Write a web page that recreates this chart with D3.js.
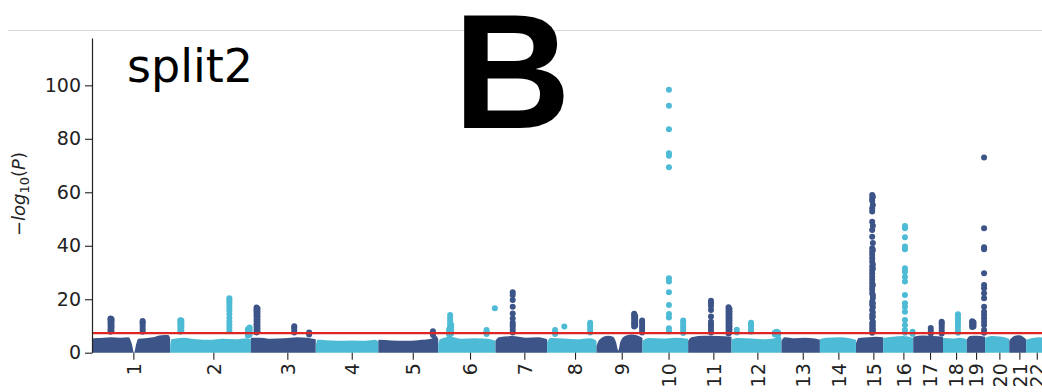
<!DOCTYPE html>
<html>
<head>
<meta charset="utf-8">
<script src="https://cdn.jsdelivr.net/npm/d3@7"></script>
<style>
  html, body { margin: 0; padding: 0; background: #fff; }
  svg { display: block; }
</style>
</head>
<body>
<svg id="chart" width="1042" height="392"></svg>
<script>
// ---- data -------------------------------------------------------------
const chromLabels = ["1","2","3","4","5","6","7","8","9","10","11",
                     "12","13","14","15","16","17","18","19","20","21","22"];
// plotted span of each chromosome (Mb)
const chromSpan = [251,244,196,189,181,173,156,149,139,138,131,
                   151,116,109,82,91,90,72,55,73,51,57];
// x tick positions (cumulative Mb)
const tickPos = [139.9,381.6,605.1,799.7,984,1157.1,1321.1,1474.3,1615.4,1756.8,1892.1,
                 2025.1,2162.2,2269.8,2375.5,2466.2,2546.8,2625.4,2685.8,2756.2,2816.6,2869.2];
const yTickValues = [0, 20, 40, 60, 80, 100];
const threshold = 7.3;   // -log10(5e-8)

// upper envelope of the dense background SNP cloud: [position in chromosome (Mb), -log10 P]
const envelope = [
  [[0,5.2],[30,5.5],[50,5.6],[72,5.8],[100,5.6],[125,5.8],[136,3],[142,0],[148,3],[155,5.2],[175,5.4],[200,5.8],[225,6.5],[245,6.6],[251,5.5]],
  [[0,2],[4,5],[40,5.6],[80,5.0],[120,4.8],[160,5.2],[200,5.0],[230,5.4],[244,5]],
  [[0,5.5],[30,5.6],[60,5.2],[100,5.4],[140,5.8],[170,5.6],[196,5.0]],
  [[0,2.5],[5,4.8],[30,4.7],[70,4.5],[110,4.6],[150,4.5],[180,4.8],[189,4]],
  [[0,4.8],[40,4.6],[80,4.5],[120,4.7],[160,5.2],[175,6.2],[181,5]],
  [[0,3],[5,5],[36,6],[70,5.2],[110,5.4],[150,5.2],[173,4.5]],
  [[0,4.5],[10,5.8],[50,6.2],[90,5.6],[130,5.8],[156,5]],
  [[0,4],[10,5.5],[50,5.3],[90,5.0],[130,5.4],[149,4.5]],
  [[0,2.5],[10,5],[35,6.3],[50,6.0],[59,4],[66,0.8],[72,4],[86,6.2],[104,6.8],[126,6.3],[139,5.5]],
  [[0,4.5],[20,5.5],[60,5.3],[100,5.6],[138,5.2]],
  [[0,4.5],[10,5.8],[50,6.3],[90,6.2],[131,6]],
  [[0,5],[20,5.5],[60,5.3],[100,5.0],[130,5.4],[140,6.3],[151,5.5]],
  [[0,4.5],[10,5.8],[40,5.4],[70,5.6],[100,5.3],[116,4.8]],
  [[0,5],[20,5.6],[60,5.8],[90,5.4],[109,4.8]],
  [[0,3.5],[8,5.5],[40,5.8],[60,6],[82,5.8]],
  [[0,5.5],[30,6],[60,6.2],[91,5.5]],
  [[0,6],[30,6.4],[60,6.2],[90,6]],
  [[0,5.5],[30,5.3],[50,5.6],[72,5]],
  [[0,5],[10,6.2],[30,6.3],[55,6]],
  [[0,5.5],[20,6.2],[50,6.0],[73,5.2]],
  [[0,4.5],[15,6.2],[30,6.5],[51,5]],
  [[0,4.8],[20,5.5],[40,5.8],[57,5.5]]
];

// associated SNPs above the background: chromosome, position (Mb), -log10 P values
const hits = [
  {chr:1,  pos:71,  p:[7.8,8.8,9.8,10.8,11.6,12.3,12.8]},
  {chr:1,  pos:74,  p:[8.2,9.3,10.3,11.2,12.0,12.6]},
  {chr:1,  pos:168, p:[7.8,8.8,9.8,10.7,11.4,11.9]},
  {chr:2,  pos:31,  p:[7.8,8.8,9.8,10.7,11.5,12.1]},
  {chr:2,  pos:34,  p:[8.3,9.4,10.4,11.3,12.0]},
  {chr:2,  pos:179, p:[8.0,9.2,10.5,11.6,13.0,14.5,15.8,16.8,17.8,18.8,19.6,20.4]},
  {chr:2,  pos:235, p:[6.4,7.3,8.1,8.8]},
  {chr:2,  pos:240, p:[6.6,7.5,8.3,9.0,9.4]},
  {chr:3,  pos:17,  p:[7.6,8.6,9.6,10.6,11.6,12.6,13.6,14.5,15.4,16.2,16.9]},
  {chr:3,  pos:20,  p:[8.0,9.1,10.2,11.3,12.4,13.5,14.6,15.6,16.5]},
  {chr:3,  pos:131, p:[7.6,8.5,9.3,9.9]},
  {chr:3,  pos:176, p:[6.8,7.6]},
  {chr:5,  pos:165, p:[6.6,7.4,8.0]},
  {chr:6,  pos:33,  p:[6.8,7.8,8.8]},
  {chr:6,  pos:36,  p:[7.0,8.0,9.0,10.0,11.0,12.0,13.0,14.1]},
  {chr:6,  pos:39,  p:[7.2,8.4,9.6,10.5]},
  {chr:6,  pos:146, p:[7.0,7.9,8.5]},
  {chr:6,  pos:171, p:[16.6]},
  {chr:7,  pos:52,  p:[7.6,8.5,9.6,10.4,11.2,12.8,14.7,17.2,19.7,21.6,22.6]},
  {chr:8,  pos:24,  p:[7.0,7.8,8.5]},
  {chr:8,  pos:52,  p:[9.8]},
  {chr:8,  pos:130, p:[7.6,8.6,9.6,10.5,11.2]},
  {chr:9,  pos:114, p:[9.8,10.6,11.4,12.3,13.2,14.0,14.6]},
  {chr:9,  pos:117, p:[10.2,11.0,11.9,12.8,13.7]},
  {chr:9,  pos:138, p:[7.6,8.5,9.4,10.4,11.3,12.0]},
  {chr:10, pos:80,  p:[7.9,9.1,13.2,14.5,17.8,22.6,26.6,27.8,69.4,73.7,74.6,83.6,92.4,98.3]},
  {chr:10, pos:123, p:[7.4,8.4,9.4,10.4,11.3,12.0]},
  {chr:11, pos:69,  p:[7.6,8.6,9.7,10.6,11.6,13.5,16.0,17.5,18.5,19.4]},
  {chr:11, pos:122, p:[7.2,8.2,9.2,10.2,11.2,12.2,13.2,14.2,15.2,16.2,17.0]},
  {chr:11, pos:125, p:[7.6,8.7,9.8,10.9,12.0,13.1,14.2,15.3,16.3]},
  {chr:12, pos:16,  p:[7.6,8.6]},
  {chr:12, pos:59,  p:[7.8,8.8,9.8,10.6,11.2]},
  {chr:12, pos:131, p:[6.8,7.6]},
  {chr:12, pos:136, p:[7.0,7.8]},
  {chr:12, pos:141, p:[6.8,7.6]},
  {chr:15, pos:49,  p:[7.5,8.5,9.7,11.0,12.9,14.1,16.0,17.8,19.1,22.2,23.5,24.7,26.0,27.2,28.4,29.7,30.9,32.2,
                       34.0,35.3,36.6,37.8,39.1,43.4,45.9,49.0,52.8,54.0,56.8,57.8,59.0]},
  {chr:15, pos:51,  p:[8.0,9.0,10.3,11.6,13.5,15.0,17.0,18.5,20.5,21.5,25.3,31.5,33.0,38.4,41.0,47.5,55.2,58.3]},
  {chr:16, pos:66,  p:[7.5,8.5,10.4,12.2,15.3,17.2,18.5,21.6,26.6,28.4,30.3,31.6,38.7,39.7,43.2,46.5,47.4]},
  {chr:16, pos:89,  p:[7.0,7.8]},
  {chr:17, pos:53,  p:[7.2,8.2,9.2]},
  {chr:17, pos:86,  p:[7.2,8.2,9.2,10.2,11.0,11.6]},
  {chr:18, pos:45,  p:[7.5,8.5,9.8,11.0,12.0,12.9,13.8,14.4]},
  {chr:19, pos:16,  p:[9.6,10.4,11.2,11.8]},
  {chr:19, pos:20,  p:[9.8,10.6,11.4]},
  {chr:19, pos:52,  p:[7.5,8.5,10.4,11.6,12.9,14.1,15.3,17.2,20.4,22.2,24.1,25.3,29.7,38.7,39.4,46.5,73.0]}
];

// ---- layout -----------------------------------------------------------
const W = 1042, H = 392;
const plot = {left: 92, right: 1042, top: 38, bottom: 352.7};
const colors = ["#3C5488", "#4DBBD5"];
const textColor = "#222";

const chromStart = [];
chromSpan.reduce((acc, len, i) => { chromStart[i] = acc; return acc + len; }, 0);

const x = d3.scaleLinear().domain([15, 2885]).range([plot.left, plot.right]);
const y = d3.scaleLinear().domain([0, 117.7]).range([plot.bottom, plot.top]);

const svg = d3.select("#chart");
svg.append("rect").attr("width", W).attr("height", H).attr("fill", "#fff");

// thin rule across the top of the panel
svg.append("line")
  .attr("x1", 8).attr("x2", W).attr("y1", 30.5).attr("y2", 30.5)
  .attr("stroke", "#d9d9d9").attr("stroke-width", 1);

svg.append("defs").append("clipPath").attr("id", "plotClip")
  .append("rect")
  .attr("x", plot.left).attr("y", 0)
  .attr("width", plot.right - plot.left).attr("height", plot.bottom + 1);

const g = svg.append("g").attr("clip-path", "url(#plotClip)");

// background SNP cloud per chromosome
const area = d3.area()
  .x(d => d.x).y0(y(0)).y1(d => d.y)
  .curve(d3.curveMonotoneX);

envelope.forEach((pts, i) => {
  const start = chromStart[i];
  g.append("path")
    .datum(pts.map(d => ({x: x(start + d[0]), y: y(d[1])})))
    .attr("d", area)
    .attr("fill", colors[i % 2]);
});

// significant SNPs
const dots = [];
hits.forEach(h => {
  const i = h.chr - 1;
  h.p.forEach(v => dots.push({cx: x(chromStart[i] + h.pos), cy: y(v), c: colors[i % 2]}));
});
g.selectAll("circle.snp").data(dots).join("circle")
  .attr("class", "snp")
  .attr("cx", d => d.cx).attr("cy", d => d.cy).attr("r", 3)
  .attr("fill", d => d.c);

// genome-wide significance line
g.append("line")
  .attr("x1", plot.left).attr("x2", plot.right)
  .attr("y1", y(threshold)).attr("y2", y(threshold))
  .attr("stroke", "#dd2727").attr("stroke-width", 2.3);

// axes
const yAxis = d3.axisLeft(y).tickValues(yTickValues).tickSize(7).tickSizeOuter(0).tickPadding(4);
const yg = svg.append("g").attr("transform", `translate(${plot.left},0)`).call(yAxis);

const xAxis = d3.axisBottom(x).tickValues(tickPos)
  .tickFormat((d, i) => chromLabels[i]).tickSize(7).tickSizeOuter(0);
const xg = svg.append("g").attr("transform", `translate(0,${plot.bottom})`).call(xAxis);
xg.select(".domain").remove();

[yg, xg].forEach(a => {
  a.selectAll("path.domain").attr("stroke", textColor).attr("stroke-width", 1.2);
  a.selectAll(".tick line").attr("stroke", textColor).attr("stroke-width", 1.1);
  a.selectAll(".tick text")
    .attr("fill", textColor)
    .style("font-family", "'DejaVu Sans', sans-serif")
    .style("font-size", "19px");
});

xg.selectAll(".tick text")
  .attr("transform", "rotate(-90)")
  .attr("x", -10.5).attr("y", 0).attr("dy", "0.36em")
  .attr("text-anchor", "end");

// y-axis label: -log10(P)
const ylab = svg.append("text")
  .attr("transform", "translate(25,194) rotate(-90)")
  .attr("text-anchor", "middle")
  .attr("fill", textColor)
  .style("font-family", "'DejaVu Sans', sans-serif")
  .style("font-size", "18px");
ylab.append("tspan").text("\u2212");
ylab.append("tspan").style("font-style", "italic").text("log");
ylab.append("tspan").attr("dy", 4).style("font-size", "13px").text("10");
ylab.append("tspan").attr("dy", -4).text("(");
ylab.append("tspan").style("font-style", "italic").text("P");
ylab.append("tspan").text(")");

// panel title and letter
svg.append("text")
  .attr("x", 127).attr("y", 82)
  .attr("fill", "#000")
  .style("font-family", "'DejaVu Sans', sans-serif")
  .style("font-size", "46px")
  .text("split2");

svg.append("text")
  .attr("x", 512).attr("y", 128)
  .attr("text-anchor", "middle")
  .attr("fill", "#000")
  .style("font-family", "'Liberation Sans', Arial, sans-serif")
  .style("font-weight", "bold")
  .style("font-size", "163px")
  .text("B");
</script>
</body>
</html>
